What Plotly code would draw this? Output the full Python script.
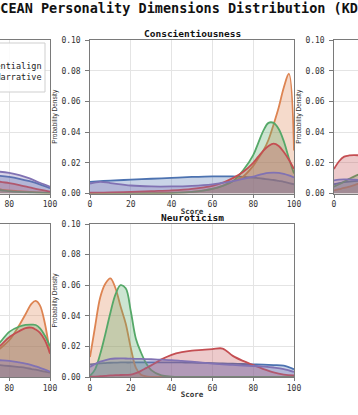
import plotly.graph_objects as go

W, H = 358, 415

# ---------------- data ----------------
SERIES = ["Raw", "SFT", "Potentialign", "Co-Narrative", "DPO"]
COLORS = ["#4C72B0", "#DD8452", "#55A868", "#C44E52", "#8172B3"]
FILLS = ["rgba(76,114,176,0.3)", "rgba(221,132,82,0.3)", "rgba(85,168,104,0.3)",
         "rgba(196,78,82,0.3)", "rgba(129,114,179,0.3)"]

TITLE = "OCEAN Personality Dimensions Distribution (KDE)"
DIMENSIONS = ["Openness", "Conscientiousness", "Extraversion", "Agreeableness", "Neuroticism"]
X_TICKS = [0, 20, 40, 60, 80, 100]
Y_TICKS = [0.0, 0.02, 0.04, 0.06, 0.08, 0.10]

# Openness (top-left)
OPEN_X = [0, 10, 20, 30, 40, 50, 60, 70, 75, 80, 85, 90, 95, 100]
OPEN_RAW = [0.006, 0.008, 0.009, 0.010, 0.011, 0.0115, 0.0118, 0.0118, 0.0115, 0.0108, 0.0096, 0.008, 0.006, 0.0035]
OPEN_SFT = [0.0, 0.001, 0.004, 0.012, 0.030, 0.045, 0.030, 0.010, 0.003, 0.002, 0.0015, 0.001, 0.0007, 0.0004]
OPEN_POT = [0.0, 0.002, 0.008, 0.022, 0.040, 0.042, 0.025, 0.007, 0.0025, 0.0015, 0.001, 0.0008, 0.0006, 0.0004]
OPEN_NAR = [0.001, 0.002, 0.004, 0.008, 0.013, 0.017, 0.016, 0.010, 0.0078, 0.0068, 0.0055, 0.004, 0.0025, 0.0012]
OPEN_DPO = [0.007, 0.008, 0.009, 0.010, 0.011, 0.012, 0.0135, 0.0143, 0.0142, 0.0135, 0.012, 0.0098, 0.007, 0.0045]

# Conscientiousness (top-middle)
CONS_X = [0, 5, 10, 20, 30, 40, 50, 60, 65, 70, 75, 80, 82.5, 85, 87.5, 90, 92.5, 95, 97.5, 100]
CONS_RAW = [0.0076, 0.0080, 0.0084, 0.0090, 0.0096, 0.0102, 0.0108, 0.0112, 0.0112, 0.0111, 0.0108, 0.0104,
            0.0100, 0.0096, 0.0092, 0.0088, 0.0082, 0.0076, 0.0068, 0.0060]
CONS_SFT = [0.0, 0.0, 0.0, 0.0001, 0.0002, 0.0005, 0.001, 0.003, 0.005, 0.008, 0.011, 0.018,
            0.023, 0.028, 0.035, 0.045, 0.056, 0.069, 0.078, 0.028]
CONS_POT = [0.0, 0.0, 0.0, 0.0, 0.0001, 0.0003, 0.001, 0.003, 0.005, 0.008, 0.015, 0.025,
            0.033, 0.041, 0.046, 0.046, 0.042, 0.034, 0.023, 0.013]
CONS_NAR = [0.0005, 0.0006, 0.0007, 0.001, 0.0015, 0.002, 0.003, 0.005, 0.007, 0.010, 0.014, 0.020,
            0.024, 0.028, 0.031, 0.0325, 0.031, 0.027, 0.022, 0.016]
CONS_DPO = [0.0065, 0.0076, 0.0068, 0.0052, 0.0046, 0.0046, 0.005, 0.006, 0.007, 0.008, 0.0095, 0.011,
            0.012, 0.0128, 0.0134, 0.0136, 0.0134, 0.0128, 0.0118, 0.0105]

# Extraversion (top-right)
EXTR_X = [0, 2.5, 5, 7.5, 10, 15, 20, 30, 40, 50, 60, 70, 80, 90, 100]
EXTR_RAW = [0.006, 0.0068, 0.0074, 0.0078, 0.008, 0.0085, 0.009, 0.0098, 0.0105, 0.011, 0.011, 0.0105, 0.0098, 0.009, 0.008]
EXTR_SFT = [0.002, 0.0028, 0.0036, 0.0045, 0.0055, 0.008, 0.011, 0.018, 0.026, 0.033, 0.035, 0.030, 0.020, 0.010, 0.004]
EXTR_POT = [0.0045, 0.006, 0.0078, 0.0095, 0.0112, 0.014, 0.017, 0.022, 0.026, 0.026, 0.022, 0.016, 0.010, 0.005, 0.002]
EXTR_NAR = [0.016, 0.021, 0.024, 0.0248, 0.025, 0.0245, 0.023, 0.019, 0.015, 0.012, 0.010, 0.008, 0.006, 0.004, 0.002]
EXTR_DPO = [0.0085, 0.009, 0.0092, 0.0092, 0.009, 0.0088, 0.0088, 0.009, 0.0095, 0.010, 0.0105, 0.011, 0.0105, 0.009, 0.007]

# Agreeableness (bottom-left)
AGRE_X = [0, 10, 20, 30, 40, 50, 60, 70, 75, 80, 85, 88, 91, 93, 95, 97.5, 100]
AGRE_RAW = [0.009, 0.0095, 0.0098, 0.0098, 0.0096, 0.0094, 0.009, 0.0085, 0.0078, 0.0072, 0.0065, 0.006,
            0.0052, 0.0048, 0.0042, 0.0035, 0.0028]
AGRE_SFT = [0.0, 0.0, 0.0005, 0.001, 0.002, 0.004, 0.007, 0.012, 0.018, 0.024, 0.034, 0.041,
            0.048, 0.0497, 0.047, 0.035, 0.015]
AGRE_POT = [0.0, 0.0005, 0.001, 0.002, 0.004, 0.007, 0.011, 0.017, 0.022, 0.0295, 0.033, 0.034,
            0.0342, 0.034, 0.032, 0.027, 0.020]
AGRE_NAR = [0.001, 0.002, 0.003, 0.005, 0.007, 0.009, 0.012, 0.016, 0.0198, 0.026, 0.030, 0.032,
            0.0322, 0.031, 0.029, 0.024, 0.0154]
AGRE_DPO = [0.006, 0.007, 0.008, 0.009, 0.010, 0.011, 0.0115, 0.0115, 0.011, 0.0105, 0.0095, 0.0088,
            0.0078, 0.007, 0.006, 0.0048, 0.0035]

# Neuroticism (bottom-middle)
NEUR_X = [0, 2.5, 5, 7.5, 10, 12.5, 15, 17.5, 20, 22.5, 25, 27.5, 30, 35, 40, 45, 50, 55, 60, 65,
          70, 75, 80, 85, 90, 95, 100]
NEUR_RAW = [0.0083, 0.0086, 0.0089, 0.0091, 0.0093, 0.0094, 0.0095, 0.0095, 0.0095, 0.0096, 0.0096, 0.0096,
            0.0096, 0.0096, 0.0096, 0.0095, 0.0094, 0.0092, 0.0091, 0.0089, 0.0087, 0.0085, 0.0083, 0.0081,
            0.0078, 0.0074, 0.0050]
NEUR_SFT = [0.013, 0.033, 0.052, 0.061, 0.0645, 0.058, 0.046, 0.035, 0.019, 0.006, 0.0015, 0.0004,
            0.0001, 0.0, 0.0, 0.0, 0.0, 0.0, 0.0, 0.0, 0.0, 0.0, 0.0, 0.0, 0.0, 0.0, 0.0]
NEUR_POT = [0.0007, 0.005, 0.015, 0.028, 0.042, 0.054, 0.060, 0.058, 0.043, 0.025, 0.016, 0.009,
            0.0045, 0.001, 0.0003, 0.0001, 0.0, 0.0, 0.0, 0.0, 0.0, 0.0, 0.0, 0.0, 0.0, 0.0, 0.0]
NEUR_NAR = [0.0002, 0.0003, 0.0005, 0.0007, 0.001, 0.0012, 0.0013, 0.0014, 0.0015, 0.0025, 0.004, 0.0058,
            0.0076, 0.0115, 0.0145, 0.0162, 0.0172, 0.0177, 0.0182, 0.0186, 0.0138, 0.0105, 0.0078, 0.0052,
            0.003, 0.0016, 0.001]
NEUR_DPO = [0.0066, 0.0085, 0.010, 0.011, 0.0118, 0.0121, 0.0122, 0.0121, 0.012, 0.0119, 0.0118, 0.0117,
            0.0116, 0.0113, 0.011, 0.0105, 0.010, 0.0094, 0.0088, 0.0083, 0.0079, 0.0075, 0.0072, 0.0068,
            0.0062, 0.0052, 0.0033]

PANELS = [
    (OPEN_X, [OPEN_RAW, OPEN_SFT, OPEN_POT, OPEN_NAR, OPEN_DPO]),
    (CONS_X, [CONS_RAW, CONS_SFT, CONS_POT, CONS_NAR, CONS_DPO]),
    (EXTR_X, [EXTR_RAW, EXTR_SFT, EXTR_POT, EXTR_NAR, EXTR_DPO]),
    (AGRE_X, [AGRE_RAW, AGRE_SFT, AGRE_POT, AGRE_NAR, AGRE_DPO]),
    (NEUR_X, [NEUR_RAW, NEUR_SFT, NEUR_POT, NEUR_NAR, NEUR_DPO]),
]

# ---------------- layout (pixels of the original, wider figure) ----------------
COLS_PX = [(-154.0, 50.0), (90.0, 294.0), (334.0, 538.0)]
ROWS_PX = [(40.0, 193.5), (224.0, 377.0)]
GRID = [(0, 0), (0, 1), (0, 2), (1, 0), (1, 1)]

MONO = "DejaVu Sans Mono"
SANS = "Liberation Sans"
AX = "#7a7a7a"

fig = go.Figure()
legend_rows_px = [44, 55, 66, 77, 88]

for p, (xs, ys_list) in enumerate(PANELS):
    ax = "" if p == 0 else str(p + 1)
    for s, ys in enumerate(ys_list):
        fig.add_trace(go.Scatter(
            x=xs, y=ys, name=SERIES[s], mode="lines",
            line=dict(color=COLORS[s], width=1.8, shape="spline", smoothing=1.0),
            fill="tozeroy", fillcolor=FILLS[s],
            xaxis="x" + ax, yaxis="y" + ax,
            showlegend=(p == 0),
            legend="legend" if s == 0 else "legend%d" % (s + 1),
            hoverinfo="skip",
        ))

layout = dict(
    width=W, height=H,
    margin=dict(l=0, r=0, t=0, b=0, autoexpand=False),
    paper_bgcolor="white", plot_bgcolor="white",
    title=dict(text="<b>" + TITLE + "</b>", x=183.2 / W, xanchor="center", xref="paper",
               y=(H - 8.5) / H, yanchor="middle", yref="container",
               font=dict(family=MONO, size=13.5, color="#111")),
    annotations=[],
    shapes=[],
)

for p, (r, c) in enumerate(GRID):
    ax = "" if p == 0 else str(p + 1)
    a, b = COLS_PX[c]
    va, vb = max(a, 0.0), min(b, float(W))
    rng = [(va - a) / (b - a) * 100, (vb - a) / (b - a) * 100]
    top, bot = ROWS_PX[r]
    xdom = [va / W, vb / W]
    ydom = [(H - bot) / H, (H - top) / H]
    xa = dict(domain=xdom, range=rng, anchor="y" + ax, tickvals=X_TICKS,
              showgrid=True, gridcolor="#e4e4e4", gridwidth=1, zeroline=False,
              showline=True, linecolor=AX, linewidth=1.2, mirror=True,
              ticks="outside", ticklen=3, tickcolor=AX, tickwidth=1,
              tickfont=dict(family=MONO, size=8, color="#333"), ticklabelstandoff=0)
    ya = dict(domain=ydom, range=[0, 0.1], anchor="x" + ax, tickvals=Y_TICKS, tickformat=".2f",
              showgrid=True, gridcolor="#e4e4e4", gridwidth=1, zeroline=False,
              showline=True, linecolor=AX, linewidth=1.2,
              tickfont=dict(family=MONO, size=8, color="#333"))
    if c == 0:
        ya.update(side="right", showticklabels=False, ticks="")
    else:
        ya.update(ticks="outside", ticklen=3.5, tickcolor=AX, tickwidth=1, ticklabelstandoff=3,
                  title=dict(text="Probability Density", standoff=3,
                             font=dict(family=SANS, size=6.5, color="#333")))
    if c == 1:
        ya.update(mirror=True)
        xa.update(title=dict(text="<b>Score</b>", standoff=0,
                             font=dict(family=MONO, size=7.5, color="#333")))
        layout["annotations"].append(dict(
            text="<b>" + DIMENSIONS[p] + "</b>", x=(va + vb) / 2 / W, y=(H - top + 6.5) / H,
            xref="paper", yref="paper", xanchor="center", yanchor="middle", showarrow=False,
            font=dict(family=MONO, size=9.5, color="#111")))
    layout["xaxis" + ax] = xa
    layout["yaxis" + ax] = ya

# legend frame (upper-left panel)
layout["shapes"].append(dict(type="rect", xref="paper", yref="paper", layer="above",
                             x0=-0.2, x1=45 / W, y0=(H - 92) / H, y1=(H - 43) / H,
                             fillcolor="rgba(255,255,255,0.85)", line=dict(color="#cfcfcf", width=1)))
text_end = 41.5
char_w = 0.602 * 8.5
for s in range(5):
    key = "legend" if s == 0 else "legend%d" % (s + 1)
    start = text_end - 12 * char_w
    layout[key] = dict(x=(start - 40) / W, xanchor="left", xref="paper",
                       y=(H - legend_rows_px[s]) / H, yanchor="middle", yref="paper",
                       bgcolor="rgba(0,0,0,0)", borderwidth=0,
                       font=dict(family=MONO, size=8.5, color="#222"))

fig.update_layout(**layout)
fig.write_html("out.html", config={"displayModeBar": False, "staticPlot": True},
               post_script="document.body.style.margin='0';document.body.style.padding='0';")
